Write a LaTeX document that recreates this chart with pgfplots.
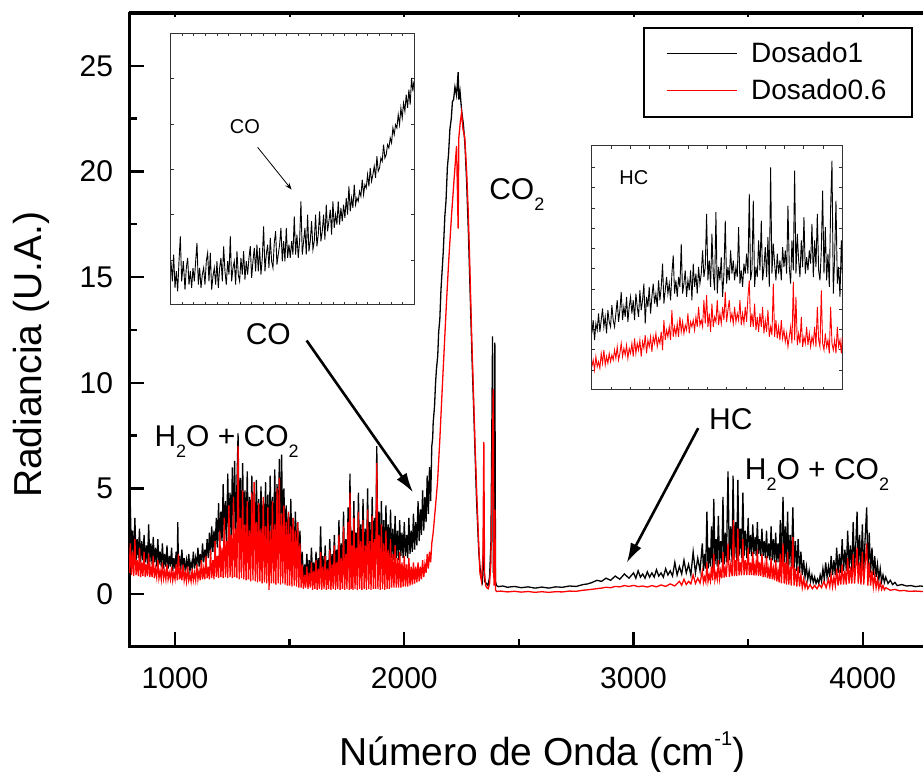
\documentclass[border=0pt]{standalone}
\usepackage{fontspec}
\setmainfont{Liberation Sans}
\usepackage{pgfplots}
\pgfplotsset{compat=1.18}
\usetikzlibrary{arrows.meta}
\newcommand{\sub}[1]{\raisebox{-5.5pt}{\fontsize{9}{10}\selectfont #1}}

\begin{document}
\begin{tikzpicture}
% main spectrum
\begin{axis}[
  at={(0pt,0pt)}, anchor=south west,
  scale only axis, width=401.3pt, height=317pt,
  xmin=800, xmax=4300, ymin=-2.5, ymax=27.5,
  xtick={1000,2000,3000,4000}, ytick={0,5,...,25},
  minor x tick num=1, minor y tick num=1,
  xtick pos=left, ytick pos=left,
  tick align=inside,
  major tick length=7.5pt, minor tick length=4pt,
  tick style={line width=1.2pt, black},
  axis line style={line width=1.5pt},
  /pgf/number format/assume math mode=true,
  /pgf/number format/1000 sep={},
  ticklabel style={font=\fontsize{15}{17}\selectfont},
  xticklabel style={yshift=-7pt},
  yticklabel style={xshift=-4.5pt},
  xlabel={Número de Onda (cm\raisebox{10pt}{\fontsize{10}{11}\selectfont -1})},
  ylabel={Radiancia (U.A.)},
  label style={font=\fontsize{19.5}{22}\selectfont},
  xlabel style={at={(axis description cs:0.515,-0.167)}, anchor=center},
  ylabel style={at={(axis description cs:-0.1224,0.4606)}, anchor=center},
  legend style={at={(axis description cs:0.6405,0.978)}, anchor=north west,
    draw=black, line width=1pt, font=\fontsize{14}{16}\selectfont,
    inner xsep=11pt, inner ysep=5pt, row sep=3pt,
    /tikz/every odd column/.append style={column sep=5pt}},
  legend cell align=left,
  legend image code/.code={\draw[#1, line width=0.5pt] (0pt,0pt) -- (35pt,0pt);},
]
\addplot[black, line width=0.65pt] coordinates {
(800,2.2)(805,4.2)(810,1.8)(815,3.0)(820,1.7)(825,3.6)(830,1.6)(835,2.6)(840,1.7)(845,3.1)
(850,1.5)(855,2.5)(860,1.6)(865,2.8)(870,1.5)(875,2.3)(880,1.4)(885,3.3)(890,1.5)(895,2.4)
(900,1.4)(905,2.7)(910,1.5)(915,2.2)(920,1.3)(925,2.6)(930,1.4)(935,2.0)(940,1.3)(945,2.4)
(950,1.2)(955,1.9)(960,1.3)(965,2.3)(970,1.2)(975,1.8)(980,1.3)(985,2.2)(990,1.1)(995,1.7)
(1000,1.2)(1005,2.0)(1010,1.2)(1012,3.4)(1015,1.3)(1020,1.8)(1025,1.1)(1030,2.1)(1035,1.2)(1040,1.7)
(1045,1.0)(1050,1.6)(1055,1.2)(1060,1.9)(1065,1.1)(1070,1.5)(1075,1.2)(1080,2.0)(1085,1.2)(1090,1.7)
(1095,1.3)(1100,2.2)(1105,1.3)(1110,1.9)(1115,1.4)(1120,2.4)(1125,1.5)(1130,2.1)(1135,1.6)(1140,2.6)
(1145,1.7)(1150,2.9)(1155,1.8)(1160,3.2)(1165,2.0)(1170,3.0)(1175,2.1)(1180,3.6)(1185,2.2)(1190,4.3)
(1195,2.4)(1200,3.9)(1205,2.5)(1210,5.2)(1215,2.6)(1220,4.4)(1225,2.5)(1230,5.7)(1235,2.7)(1240,4.8)
(1245,2.6)(1250,6.0)(1255,2.8)(1260,6.3)(1265,2.7)(1270,5.2)(1275,7.6)(1280,2.8)(1285,5.5)(1290,2.6)
(1295,6.2)(1300,2.7)(1305,4.9)(1310,2.5)(1315,5.8)(1320,2.6)(1325,4.6)(1330,2.5)(1335,5.6)(1340,2.4)
(1345,4.8)(1350,2.5)(1355,5.4)(1360,2.3)(1365,4.5)(1370,2.4)(1375,5.1)(1380,2.3)(1385,4.4)(1390,2.5)
(1395,5.3)(1400,2.4)(1405,4.7)(1410,2.3)(1415,5.6)(1420,2.4)(1425,4.6)(1430,2.3)(1435,5.9)(1440,2.4)
(1445,5.2)(1450,2.5)(1455,6.4)(1460,2.6)(1465,6.6)(1470,2.5)(1475,5.0)(1480,2.3)(1485,4.2)(1490,2.2)
(1495,3.8)(1500,2.0)(1505,4.5)(1510,1.9)(1515,3.6)(1520,1.8)(1525,3.9)(1530,1.7)(1535,3.4)(1540,1.5)
(1545,3.0)(1550,1.0)(1555,2.0)(1560,0.6)(1565,1.4)(1570,0.8)(1575,1.9)(1580,0.7)(1585,1.6)(1590,0.8)
(1595,2.2)(1600,0.9)(1605,1.5)(1610,0.8)(1615,2.0)(1620,0.9)(1625,1.7)(1630,0.8)(1635,3.2)(1640,0.9)
(1645,1.8)(1650,0.8)(1655,2.3)(1660,0.9)(1665,1.6)(1670,0.9)(1675,2.6)(1680,1.0)(1685,1.9)(1690,0.9)
(1695,2.8)(1700,1.0)(1705,2.1)(1710,1.0)(1715,3.5)(1720,1.1)(1725,2.4)(1730,1.0)(1735,3.9)(1740,1.1)
(1745,2.6)(1750,1.2)(1755,4.1)(1760,1.1)(1763,5.7)(1768,1.2)(1772,3.0)(1776,1.1)(1780,4.4)(1785,1.3)
(1790,2.9)(1795,1.2)(1800,4.8)(1805,1.3)(1810,3.3)(1815,1.2)(1820,4.5)(1825,1.4)(1830,3.1)(1835,1.3)
(1840,5.0)(1845,1.4)(1850,3.4)(1855,1.3)(1860,4.6)(1865,1.5)(1870,3.6)(1875,1.4)(1880,7.0)(1885,1.5)
(1890,3.9)(1895,1.4)(1900,4.4)(1905,1.6)(1910,3.5)(1915,1.5)(1920,4.2)(1925,1.6)(1930,3.3)(1935,1.5)
(1940,4.0)(1945,1.7)(1950,3.1)(1955,1.6)(1960,3.7)(1965,1.7)(1970,3.0)(1975,1.6)(1980,3.5)(1985,1.8)
(1990,2.9)(1995,1.7)(2000,3.4)(2005,1.8)(2010,2.8)(2015,1.7)(2020,3.6)(2025,1.9)(2030,3.0)(2035,2.0)
(2040,3.8)(2045,2.1)(2050,3.4)(2055,2.3)(2060,4.4)(2065,2.5)(2070,4.0)(2075,2.8)(2080,4.9)(2085,3.0)
(2090,4.6)(2095,3.4)(2100,5.6)(2105,3.8)(2110,6.0)(2115,4.4)(2120,7.0)(2124,7.4)(2126,8.1)(2132,8.9)
(2136,9.9)(2140,10.6)(2146,11.3)(2150,12.4)(2155,13.0)(2160,14.4)(2165,15.3)(2170,16.2)(2177,17.9)(2182,18.6)
(2188,20.2)(2193,20.8)(2199,22.0)(2205,22.5)(2210,23.3)(2215,23.4)(2221,24.0)(2228,23.6)(2235,24.7)(2238,23.4)
(2243,23.8)(2250,22.9)(2258,22.2)(2265,21.2)(2272,19.5)(2280,17.0)(2288,14.0)(2296,11.0)(2305,8.0)(2315,4.5)
(2325,2.0)(2333,0.9)(2340,0.6)(2346,2.5)(2350,0.6)(2358,0.5)(2365,0.4)(2372,0.8)(2378,2.5)(2385,12.2)
(2388,1.0)(2392,3.0)(2395,11.9)(2398,0.6)(2402,0.4)(2410,0.35)(2430,0.38)(2450,0.32)(2480,0.36)(2510,0.3)
(2540,0.34)(2570,0.28)(2600,0.33)(2630,0.28)(2660,0.34)(2690,0.32)(2720,0.38)(2750,0.36)(2780,0.45)(2800,0.48)
(2820,0.55)(2840,0.65)(2860,0.6)(2880,0.75)(2900,0.65)(2920,0.85)(2940,0.7)(2960,0.95)(2980,0.75)(3000,1.0)
(3010,0.75)(3020,1.1)(3030,0.8)(3040,0.95)(3050,0.75)(3060,1.05)(3070,0.8)(3080,1.0)(3090,0.8)(3100,1.15)
(3110,0.85)(3120,1.0)(3130,0.8)(3140,1.2)(3150,0.9)(3160,1.1)(3170,0.85)(3180,1.5)(3190,0.9)(3200,1.3)
(3210,0.95)(3220,1.6)(3230,1.0)(3240,1.4)(3250,0.9)(3260,2.0)(3270,1.0)(3280,1.7)(3290,1.1)(3300,2.4)
(3305,1.1)(3310,1.9)(3315,1.2)(3320,3.9)(3325,1.2)(3330,2.2)(3335,1.3)(3340,3.2)(3345,1.2)(3350,4.5)
(3355,1.4)(3360,2.6)(3365,1.3)(3370,3.7)(3375,1.4)(3380,2.5)(3385,1.5)(3390,4.6)(3395,1.4)(3400,2.9)
(3405,1.5)(3412,5.8)(3418,1.6)(3424,3.2)(3430,1.5)(3434,5.6)(3440,1.7)(3446,3.4)(3450,1.6)(3455,5.4)
(3460,1.8)(3466,3.1)(3471,1.7)(3477,4.8)(3482,1.8)(3488,3.0)(3494,1.7)(3500,3.6)(3505,1.9)(3510,2.8)
(3515,1.8)(3520,3.3)(3525,1.9)(3530,2.7)(3535,1.8)(3540,3.4)(3545,1.9)(3550,2.6)(3555,1.8)(3560,3.1)
(3565,1.8)(3570,2.5)(3575,1.7)(3580,3.0)(3585,1.7)(3590,2.4)(3595,1.6)(3600,3.2)(3605,1.6)(3610,2.6)
(3615,1.5)(3620,2.9)(3625,1.5)(3630,2.4)(3635,1.5)(3640,3.5)(3645,1.4)(3652,4.6)(3657,1.5)(3662,3.2)
(3667,1.4)(3672,3.9)(3677,1.3)(3683,2.8)(3688,1.3)(3695,4.1)(3700,1.2)(3706,2.5)(3712,1.1)(3718,2.6)
(3724,1.0)(3730,2.0)(3736,0.9)(3742,1.6)(3748,0.8)(3754,1.3)(3760,0.7)(3766,1.1)(3772,0.6)(3778,0.9)
(3784,0.55)(3790,0.8)(3796,0.5)(3802,0.7)(3808,0.5)(3814,0.9)(3820,0.6)(3826,1.2)(3832,0.7)(3838,1.5)
(3844,0.8)(3850,1.3)(3856,0.8)(3862,1.8)(3868,0.9)(3874,1.6)(3880,0.9)(3886,2.2)(3892,1.0)(3898,1.9)
(3904,1.0)(3910,2.6)(3916,1.1)(3922,2.1)(3928,1.1)(3934,3.0)(3940,1.2)(3946,2.3)(3952,1.1)(3958,3.4)
(3964,1.2)(3970,2.5)(3975,3.9)(3980,1.2)(3986,2.8)(3992,1.1)(3998,3.3)(4004,1.1)(4010,2.6)(4017,4.1)
(4022,1.0)(4028,2.9)(4034,1.0)(4040,2.2)(4046,0.9)(4052,1.8)(4058,0.8)(4064,1.4)(4070,0.7)(4076,1.2)
(4082,0.6)(4088,0.9)(4094,0.55)(4100,0.8)(4110,0.5)(4120,0.65)(4130,0.45)(4140,0.55)(4150,0.4)(4170,0.45)
(4190,0.38)(4210,0.4)(4230,0.35)(4250,0.38)(4270,0.36)(4300,0.35)
};
\addlegendentry{Dosado1}
\addplot[red, line width=0.65pt] coordinates {
(800,1.0)(805,2.4)(810,0.9)(815,2.0)(820,0.85)(825,2.6)(830,0.9)(835,1.6)(840,0.85)(845,2.2)
(850,0.8)(855,1.5)(860,0.85)(865,2.0)(870,0.8)(875,1.4)(880,0.85)(885,1.9)(890,0.8)(895,1.3)
(900,0.8)(905,1.8)(910,0.75)(915,1.2)(920,0.8)(925,1.6)(930,0.75)(935,1.1)(940,0.7)(945,1.5)
(950,0.75)(955,1.1)(960,0.7)(965,1.4)(970,0.7)(975,1.0)(980,0.7)(985,1.3)(990,0.65)(995,1.0)
(1000,0.7)(1005,1.4)(1010,0.65)(1015,1.9)(1020,0.7)(1025,1.1)(1030,0.65)(1035,1.4)(1040,0.65)(1045,1.0)
(1050,0.6)(1055,1.3)(1060,0.65)(1065,0.9)(1070,0.6)(1075,1.2)(1080,0.65)(1085,1.0)(1090,0.65)(1095,1.4)
(1100,0.7)(1105,1.1)(1110,0.65)(1115,1.6)(1120,0.7)(1125,1.2)(1130,0.7)(1135,1.8)(1140,0.75)(1145,1.3)
(1150,0.7)(1155,2.1)(1160,0.75)(1165,1.6)(1170,0.7)(1175,2.5)(1180,0.8)(1185,1.8)(1190,0.75)(1195,3.0)
(1200,0.8)(1205,2.2)(1210,0.75)(1215,3.6)(1220,0.8)(1225,2.5)(1230,0.75)(1235,4.2)(1240,0.8)(1245,2.8)
(1250,0.75)(1255,4.6)(1260,0.8)(1265,3.1)(1270,0.75)(1275,7.0)(1280,0.7)(1285,3.6)(1290,0.75)(1295,4.9)
(1300,0.7)(1305,3.3)(1310,0.65)(1315,4.4)(1320,0.7)(1325,3.0)(1330,0.6)(1335,4.8)(1340,0.65)(1345,5.3)
(1350,0.6)(1355,3.4)(1360,0.55)(1365,4.3)(1370,0.6)(1375,3.1)(1380,0.5)(1385,4.6)(1390,0.55)(1395,3.2)
(1400,0.5)(1405,4.1)(1410,0.2)(1415,3.0)(1420,0.5)(1425,4.4)(1430,0.5)(1435,3.3)(1440,0.45)(1445,5.0)
(1450,0.5)(1455,5.5)(1460,0.45)(1465,3.8)(1470,0.5)(1475,4.2)(1480,0.45)(1485,3.4)(1490,0.4)(1495,3.9)
(1500,0.4)(1505,3.2)(1510,0.35)(1515,3.6)(1520,0.4)(1525,3.0)(1530,0.35)(1535,3.4)(1540,0.3)(1545,2.4)
(1550,0.3)(1555,1.4)(1560,0.25)(1565,0.9)(1570,0.3)(1575,1.3)(1580,0.25)(1585,1.0)(1590,0.3)(1595,1.5)
(1600,0.2)(1605,1.1)(1610,0.25)(1615,1.6)(1620,0.2)(1625,1.2)(1630,0.25)(1635,2.0)(1640,0.2)(1645,1.3)
(1650,0.25)(1655,1.8)(1660,0.2)(1665,1.2)(1670,0.25)(1675,2.1)(1680,0.2)(1685,1.4)(1690,0.25)(1695,2.3)
(1700,0.2)(1705,1.5)(1710,0.25)(1715,2.8)(1720,0.2)(1725,1.7)(1730,0.25)(1735,3.2)(1740,0.2)(1745,1.9)
(1750,0.25)(1755,3.4)(1760,0.2)(1763,4.8)(1768,0.25)(1772,2.3)(1776,0.2)(1780,3.6)(1785,0.25)(1790,2.2)
(1795,0.2)(1800,3.9)(1805,0.25)(1810,2.5)(1815,0.2)(1820,3.5)(1825,0.25)(1830,2.3)(1835,0.2)(1840,4.0)
(1845,0.25)(1850,2.5)(1855,0.2)(1860,3.7)(1865,0.25)(1870,2.6)(1875,0.25)(1880,6.2)(1885,0.25)(1890,2.8)
(1895,0.2)(1900,3.3)(1905,0.25)(1910,2.4)(1915,0.2)(1920,3.0)(1925,0.25)(1930,2.1)(1935,0.25)(1940,2.6)
(1945,0.3)(1950,1.9)(1955,0.3)(1960,2.3)(1965,0.3)(1970,1.7)(1975,0.3)(1980,2.0)(1985,0.3)(1990,1.5)
(1995,0.35)(2000,1.8)(2005,0.35)(2010,1.4)(2015,0.35)(2020,1.7)(2025,0.4)(2030,1.3)(2035,0.45)(2040,1.5)
(2045,0.5)(2050,1.3)(2055,0.55)(2060,1.5)(2065,0.6)(2070,1.3)(2075,0.7)(2080,1.6)(2085,0.8)(2090,1.4)
(2095,1.0)(2100,1.9)(2105,1.2)(2110,2.0)(2115,1.5)(2120,2.4)(2126,2.9)(2135,4.0)(2145,5.3)(2155,7.3)
(2165,9.6)(2175,11.8)(2184,13.8)(2195,16.0)(2206,17.9)(2217,19.6)(2228,21.2)(2235,17.3)(2238,21.6)(2244,22.3)
(2250,22.8)(2256,22.0)(2264,21.6)(2272,20.0)(2279,18.1)(2286,15.5)(2294,12.2)(2301,9.8)(2308,7.3)(2316,4.8)
(2323,2.8)(2330,1.0)(2337,0.6)(2343,1.8)(2347,7.2)(2350,1.0)(2355,0.4)(2360,0.3)(2366,0.25)(2372,0.5)
(2378,1.5)(2382,5.0)(2388,9.7)(2391,0.4)(2395,4.0)(2398,0.2)(2402,0.12)(2420,0.14)(2450,0.1)(2480,0.13)
(2510,0.09)(2540,0.12)(2570,0.08)(2600,0.11)(2630,0.08)(2660,0.11)(2690,0.1)(2720,0.14)(2750,0.13)(2780,0.18)
(2800,0.2)(2830,0.24)(2860,0.28)(2880,0.32)(2900,0.3)(2920,0.36)(2940,0.34)(2960,0.4)(2980,0.36)(3000,0.41)
(3020,0.35)(3040,0.38)(3060,0.33)(3080,0.4)(3100,0.34)(3120,0.43)(3140,0.36)(3160,0.48)(3180,0.38)(3200,0.6)
(3210,0.42)(3220,0.7)(3230,0.45)(3240,0.6)(3250,0.48)(3260,0.9)(3270,0.5)(3280,0.75)(3290,0.52)(3300,1.1)
(3305,0.55)(3310,0.8)(3315,0.58)(3320,1.5)(3325,0.6)(3330,0.9)(3335,0.62)(3340,1.3)(3345,0.65)(3350,1.9)
(3355,0.68)(3360,1.0)(3365,0.7)(3370,1.6)(3375,0.72)(3380,1.1)(3385,0.75)(3390,2.0)(3395,0.78)(3400,1.2)
(3405,0.8)(3412,2.4)(3418,0.82)(3424,1.4)(3430,0.85)(3436,3.5)(3440,0.85)(3446,1.6)(3450,0.85)(3455,3.1)
(3460,0.88)(3466,1.5)(3471,0.88)(3477,2.6)(3482,0.9)(3488,1.6)(3494,0.9)(3500,2.2)(3505,0.9)(3510,1.5)
(3515,0.9)(3520,2.0)(3525,0.88)(3530,1.4)(3535,0.88)(3540,2.1)(3545,0.85)(3550,1.5)(3555,0.85)(3560,1.9)
(3565,0.8)(3570,1.3)(3575,0.8)(3580,1.8)(3585,0.75)(3590,1.2)(3595,0.72)(3600,1.7)(3605,0.7)(3610,1.2)
(3615,0.65)(3620,1.6)(3625,0.6)(3630,1.1)(3635,0.55)(3640,1.9)(3645,0.5)(3652,2.4)(3657,0.5)(3662,1.5)
(3667,0.45)(3672,2.0)(3677,0.45)(3683,1.3)(3688,0.4)(3695,2.7)(3700,0.4)(3706,1.2)(3712,0.35)(3718,1.3)
(3724,0.35)(3730,0.9)(3736,0.3)(3742,0.7)(3748,0.3)(3754,0.55)(3760,0.25)(3770,0.45)(3780,0.25)(3790,0.4)
(3800,0.25)(3810,0.45)(3820,0.3)(3830,0.6)(3840,0.3)(3850,0.7)(3856,0.35)(3862,0.9)(3868,0.35)(3874,0.8)
(3880,0.4)(3886,1.2)(3892,0.4)(3898,1.0)(3904,0.45)(3910,1.4)(3916,0.45)(3922,1.1)(3928,0.45)(3934,1.7)
(3940,0.5)(3946,1.3)(3952,0.5)(3958,1.9)(3964,0.5)(3970,1.4)(3975,2.2)(3980,0.5)(3986,1.5)(3992,0.45)
(3998,2.0)(4004,0.45)(4010,1.4)(4017,2.4)(4022,0.4)(4028,1.5)(4034,0.4)(4040,1.1)(4046,0.35)(4052,0.9)
(4058,0.3)(4064,0.7)(4070,0.25)(4076,0.55)(4082,0.22)(4088,0.4)(4094,0.2)(4100,0.3)(4120,0.18)(4140,0.22)
(4160,0.15)(4180,0.17)(4200,0.13)(4230,0.14)(4260,0.12)(4300,0.12)
};
\addlegendentry{Dosado0.6}
\node[font=\fontsize{15}{17}\selectfont, anchor=base] at (axis cs:1225,7.0) {H\sub{2}O + CO\sub{2}};
\node[font=\fontsize{15}{17}\selectfont, anchor=base] at (axis cs:3800,5.4) {H\sub{2}O + CO\sub{2}};
\node[font=\fontsize{15}{17}\selectfont, anchor=base] at (axis cs:1407,11.8) {CO};
\node[font=\fontsize{15}{17}\selectfont, anchor=base west] at (axis cs:2340,18.65) {CO\sub{2}};
\node[font=\fontsize{15}{17}\selectfont, anchor=base] at (axis cs:3424,7.77) {HC};
\draw[line width=1.3pt, -{Latex[length=10pt,width=6pt]}] (axis cs:1574,12.0) -- (axis cs:2039,4.8);
\draw[line width=1.3pt, -{Latex[length=10pt,width=6pt]}] (axis cs:3282,7.85) -- (axis cs:2970,1.47);
\end{axis}

% short ticks along the top edge
\begin{axis}[
  at={(0pt,0pt)}, anchor=south west,
  scale only axis, width=401.3pt, height=317pt,
  xmin=800, xmax=4300, ymin=-2.5, ymax=27.5,
  axis x line*=top, hide y axis,
  xtick={1000,2000,3000,4000}, minor x tick num=1, xticklabels={},
  tick align=inside, major tick length=2pt, minor tick length=2pt,
  tick style={line width=1pt, black},
  axis line style={line width=1.5pt},
]
\end{axis}

% inset: CO region
\begin{axis}[
  at={(20.75pt,171pt)}, anchor=south west,
  scale only axis, width=121.8pt, height=135.85pt,
  xmin=17, xmax=748, ymin=16, ymax=831, y dir=reverse,
  axis background/.style={fill=white},
  axis line style={line width=0.5pt, black!80},
  tick align=inside, major tick length=1.6pt,
  tick style={line width=0.4pt, black!80},
  xtick={17,51.81,...,748}, ytick={150,288,425,560,697},
  xticklabels={}, yticklabels={},
]
\addplot[black, line width=0.45pt] coordinates {
(18,700)(22,760)(26,680)(30,780)(34,730)(38,790)(42,700)(46,625)(50,760)(55,700)
(60,785)(64,720)(68,690)(72,770)(76,730)(80,780)(84,720)(88,760)(92,700)(96,645)
(100,770)(104,720)(108,780)(112,740)(116,720)(120,770)(124,700)(128,675)(132,760)(136,675)
(140,785)(144,745)(148,720)(152,770)(156,700)(160,780)(164,720)(168,690)(172,760)(176,655)
(180,730)(184,770)(188,700)(192,740)(196,625)(200,760)(204,720)(208,700)(212,770)(216,670)
(220,740)(224,760)(228,690)(232,740)(236,670)(240,755)(244,700)(248,740)(252,690)(256,655)
(260,750)(264,700)(268,660)(272,730)(276,650)(280,730)(284,660)(288,740)(292,690)(296,595)
(300,730)(304,680)(308,650)(312,720)(316,630)(320,700)(324,720)(328,645)(332,610)(336,710)
(340,680)(344,650)(348,600)(352,700)(356,640)(360,700)(364,600)(368,690)(372,650)(376,690)
(380,640)(384,680)(388,565)(392,680)(396,620)(400,690)(404,640)(408,520)(412,680)(416,640)
(420,600)(424,680)(428,560)(432,670)(436,640)(440,580)(444,665)(448,640)(452,560)(456,655)
(460,620)(464,550)(468,640)(472,610)(476,560)(480,635)(484,530)(488,610)(492,580)(496,545)
(500,620)(504,520)(508,600)(512,560)(516,590)(520,520)(524,590)(528,540)(532,580)(536,530)
(540,570)(544,510)(548,560)(552,475)(556,550)(560,510)(564,540)(568,470)(572,530)(576,510)
(580,520)(584,490)(588,505)(592,455)(596,500)(600,470)(604,480)(608,440)(612,475)(616,420)
(620,460)(624,440)(628,415)(632,450)(636,385)(640,430)(644,420)(648,390)(652,400)(656,350)
(660,390)(664,380)(668,350)(672,360)(676,330)(680,345)(684,300)(688,320)(692,290)(696,300)
(700,260)(704,290)(708,240)(712,270)(716,225)(720,250)(724,200)(728,240)(732,185)(736,230)
(740,150)(744,190)(747,160)
};
\node[font=\fontsize{10}{12}\selectfont] at (axis cs:240,295) {CO};
\draw[line width=0.4pt, -{Stealth[length=3.5pt,width=2.5pt]}] (axis cs:278,358) -- (axis cs:380,485);
\end{axis}

% inset: HC region
\begin{axis}[
  at={(231.4pt,128.5pt)}, anchor=south west,
  scale only axis, width=125.25pt, height=122.25pt,
  xmin=22, xmax=773, ymin=14, ymax=750, y dir=reverse,
  axis background/.style={fill=white},
  axis line style={line width=0.5pt, black!80},
  tick align=inside, major tick length=1.6pt,
  tick style={line width=0.4pt, black!80},
  xtick={22,79.77,...,773}, ytick={80,141,...,690},
  xticklabels={}, yticklabels={},
]
\addplot[black, line width=0.45pt] coordinates {
(22,580)(26,540)(30,600)(34,550)(38,570)(42,520)(46,575)(50,540)(54,505)(58,560)
(62,530)(66,580)(70,510)(74,545)(78,560)(82,495)(86,540)(90,560)(94,520)(98,480)
(102,545)(106,510)(110,455)(114,540)(118,500)(122,530)(126,470)(130,545)(134,500)(138,470)
(142,520)(146,480)(150,540)(154,460)(158,500)(162,530)(166,450)(170,510)(174,480)(178,430)
(182,550)(186,470)(190,500)(194,440)(198,520)(202,470)(206,430)(210,490)(214,460)(218,500)
(222,420)(226,480)(230,440)(234,370)(238,490)(242,450)(246,410)(250,460)(254,430)(258,480)
(262,400)(266,345)(270,460)(274,420)(278,470)(282,410)(286,440)(290,310)(294,460)(298,430)
(302,390)(306,470)(310,420)(314,450)(318,390)(322,480)(326,370)(330,440)(334,400)(338,460)
(342,380)(346,430)(350,400)(354,330)(358,410)(362,380)(366,220)(370,420)(374,360)(378,440)
(382,280)(386,400)(390,450)(394,215)(398,460)(402,380)(406,420)(410,350)(414,470)(418,400)
(422,240)(426,430)(430,380)(434,420)(438,330)(442,400)(446,360)(450,420)(454,380)(458,410)
(462,260)(466,430)(470,390)(474,440)(478,370)(482,400)(486,340)(490,400)(494,160)(498,420)
(502,390)(506,180)(510,440)(514,380)(518,410)(522,300)(526,390)(530,240)(534,420)(538,380)
(542,320)(546,410)(550,290)(554,440)(558,80)(562,400)(566,310)(570,370)(574,420)(578,340)
(582,400)(586,360)(590,420)(594,320)(598,380)(602,330)(606,400)(610,195)(614,380)(618,430)
(622,300)(626,390)(630,90)(634,400)(638,280)(642,360)(646,410)(650,300)(654,380)(658,230)
(662,400)(666,350)(670,390)(674,330)(678,370)(682,250)(686,410)(690,300)(694,380)(698,220)
(702,390)(706,420)(710,330)(714,150)(718,400)(722,260)(726,420)(730,340)(734,440)(738,200)
(742,60)(746,460)(750,350)(754,180)(758,430)(762,380)(766,470)(770,300)(773,400)
};
\addplot[red, line width=0.45pt] coordinates {
(22,680)(26,660)(30,690)(34,650)(38,680)(42,665)(46,685)(50,640)(54,670)(58,630)
(62,675)(66,650)(70,670)(74,640)(78,665)(82,645)(86,660)(90,630)(94,655)(98,620)
(102,660)(106,640)(110,610)(114,650)(118,625)(122,645)(126,615)(130,655)(134,625)(138,640)
(142,610)(146,650)(150,595)(154,640)(158,610)(162,630)(166,600)(170,650)(174,605)(178,625)
(182,585)(186,640)(190,600)(194,620)(198,590)(202,635)(206,590)(210,610)(214,580)(218,620)
(222,595)(226,610)(230,575)(234,630)(238,540)(242,600)(246,570)(250,590)(254,560)(258,600)
(262,510)(266,590)(270,560)(274,585)(278,550)(282,590)(286,530)(290,575)(294,545)(298,580)
(302,555)(306,570)(310,520)(314,580)(318,545)(322,560)(326,540)(330,570)(334,530)(338,560)
(342,500)(346,555)(350,540)(354,560)(358,480)(362,550)(366,465)(370,560)(374,520)(378,575)
(382,490)(386,560)(390,530)(394,545)(398,480)(402,555)(406,520)(410,550)(414,500)(418,540)
(422,455)(426,545)(430,510)(434,480)(438,540)(442,520)(446,550)(450,500)(454,545)(458,520)
(462,540)(466,480)(470,555)(474,520)(478,550)(482,500)(486,545)(490,470)(494,420)(498,560)
(502,520)(506,560)(510,490)(514,570)(518,530)(522,575)(526,520)(530,560)(534,500)(538,580)
(542,540)(546,575)(550,510)(554,590)(558,560)(562,585)(566,430)(570,590)(574,540)(578,595)
(582,560)(586,600)(590,540)(594,595)(598,570)(602,605)(606,580)(610,620)(614,590)(618,560)
(622,610)(626,425)(630,600)(634,470)(638,615)(642,580)(646,610)(650,530)(654,620)(658,590)
(662,610)(666,560)(670,615)(674,580)(678,620)(682,590)(686,610)(690,560)(694,620)(698,500)
(702,600)(706,620)(710,450)(714,610)(718,630)(722,580)(726,620)(730,600)(734,640)(738,500)
(742,610)(746,630)(750,600)(754,640)(758,560)(762,620)(766,600)(770,640)(773,590)
};
\node[font=\fontsize{10}{12}\selectfont] at (axis cs:148,112) {HC};
\end{axis}

\pgfresetboundingbox
\path[use as bounding box] (-64.6pt,-62.5pt) rectangle (397pt,323.5pt);
\end{tikzpicture}
\end{document}
